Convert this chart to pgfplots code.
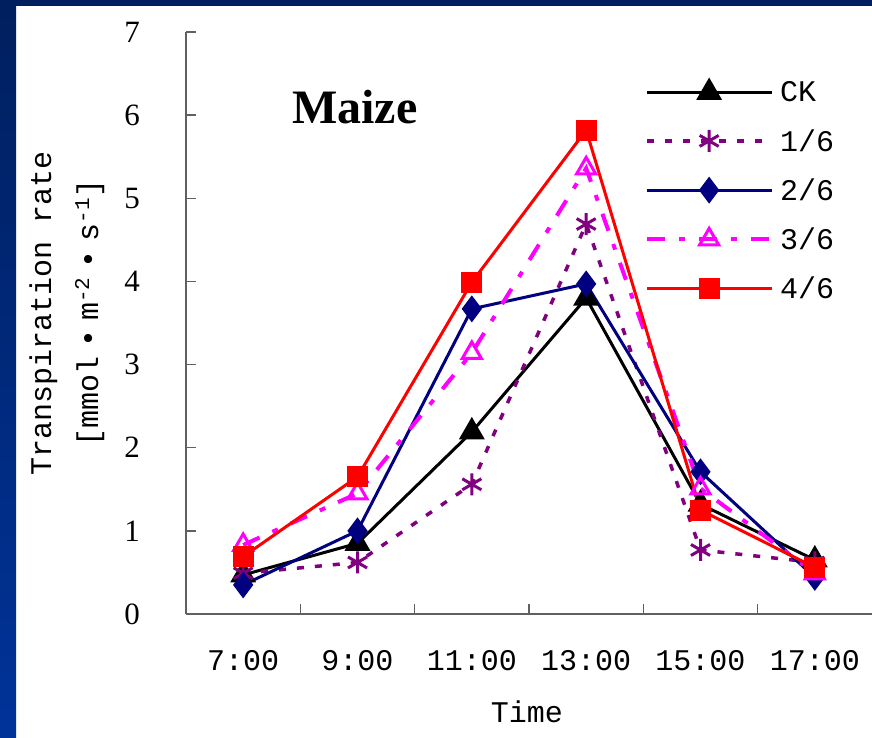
\documentclass[border=0pt]{standalone}
\usepackage{pgfplots}
\pgfplotsset{compat=1.18}
\usepackage{fontspec}
\setmainfont{Liberation Serif}
\newfontfamily\monofont{Liberation Mono}
\definecolor{slidetop}{HTML}{001F5E}
\definecolor{slideleft}{HTML}{003399}
\definecolor{purp}{HTML}{800080}
\definecolor{navyb}{HTML}{000080}
\definecolor{mag}{HTML}{FF00FF}
\definecolor{axgray}{HTML}{606060}
\begin{document}
\begin{tikzpicture}
\useasboundingbox (0pt,0pt) rectangle (872pt,738pt);
\fill[white] (0pt,0pt) rectangle (872pt,738pt);
\shade[top color=slidetop, bottom color=slideleft] (0pt,0pt) rectangle (16pt,738pt);
\fill[slidetop] (0pt,732pt) rectangle (872pt,738pt);
\begin{axis}[
  at={(186pt,124pt)}, anchor=south west,
  scale only axis, width=686pt, height=582pt,
  xmin=-0.5, xmax=5.5, ymin=0, ymax=7,
  axis x line=bottom, axis y line=left,
  axis line style={-, draw=axgray, line width=2pt},
  tick align=inside,
  xtick={0,...,5}, xticklabels={7:00,9:00,11:00,13:00,15:00,17:00},
  minor xtick={0.5,1.5,2.5,3.5,4.5},
  tick style={draw=axgray, line width=1.5pt},
  major x tick style={draw=none},
  minor tick length=10pt, major tick length=10pt,
  ytick={0,...,7},
  /pgf/number format/assume math mode=true,
  x tick label style={font=\monofont\fontsize{30}{30}\selectfont, anchor=north, inner sep=0pt, yshift=-36pt},
  y tick label style={font=\fontsize{31}{31}\selectfont, anchor=east, inner sep=0pt, xshift=-46pt},
  clip=false,
  legend style={draw=none, fill=none, at={(axis description cs:0.669,0.917)}, anchor=north west,
    font=\monofont\fontsize{30}{30}\selectfont, row sep=26pt, inner sep=0pt,
    nodes={inner sep=0pt},
    /tikz/every odd column/.append style={column sep=6pt}},
  legend cell align=left,
  legend image code/.code={\draw[mark repeat=2,mark phase=2,#1] plot coordinates {(0pt,0pt) (62pt,0pt) (125pt,0pt)};},
]
\addplot[black, line width=3pt, mark=triangle*, mark size=12pt, mark options={solid}]
  coordinates {(0,0.47) (1,0.85) (2,2.19) (3,3.80) (4,1.32) (5,0.65)};
\addlegendentry{CK}
\addplot[purp, line width=3.5pt, dash pattern=on 7pt off 11pt, mark=asterisk, mark size=11pt, mark options={solid, line width=3pt}]
  coordinates {(0,0.49) (1,0.62) (2,1.56) (3,4.69) (4,0.77) (5,0.62)};
\addlegendentry{1/6}
\addplot[navyb, line width=3pt, mark=diamond*, mark size=11pt, mark options={solid}]
  coordinates {(0,0.35) (1,1.00) (2,3.67) (3,3.97) (4,1.71) (5,0.44)};
\addlegendentry{2/6}
\addplot[mag, line width=4pt, dash pattern=on 18pt off 14pt on 6pt off 14pt, mark=triangle, mark size=11pt, mark options={solid, line width=3pt}]
  coordinates {(0,0.83) (1,1.45) (2,3.14) (3,5.36) (4,1.51) (5,0.49)};
\addlegendentry{3/6}
\addplot[red, line width=3pt, mark=square*, mark size=9pt, mark options={solid}]
  coordinates {(0,0.69) (1,1.65) (2,3.99) (3,5.82) (4,1.25) (5,0.56)};
\addlegendentry{4/6}
\node[font=\bfseries\fontsize{48}{48}\selectfont] at (axis description cs:0.246,0.871) {Maize};
\node[rotate=90, align=center, inner sep=0pt, font=\monofont\fontsize{30}{47}\selectfont]
  at (axis description cs:-0.1735,0.517)
  {Transpiration rate\\ {[}mmol\makebox[36pt]{•}m\textsuperscript{-2}\makebox[36pt]{•}s\textsuperscript{-1}{]}};
\node[font=\monofont\fontsize{30}{30}\selectfont] at (axis description cs:0.497,-0.168) {Time};
\end{axis}
\end{tikzpicture}
\end{document}
